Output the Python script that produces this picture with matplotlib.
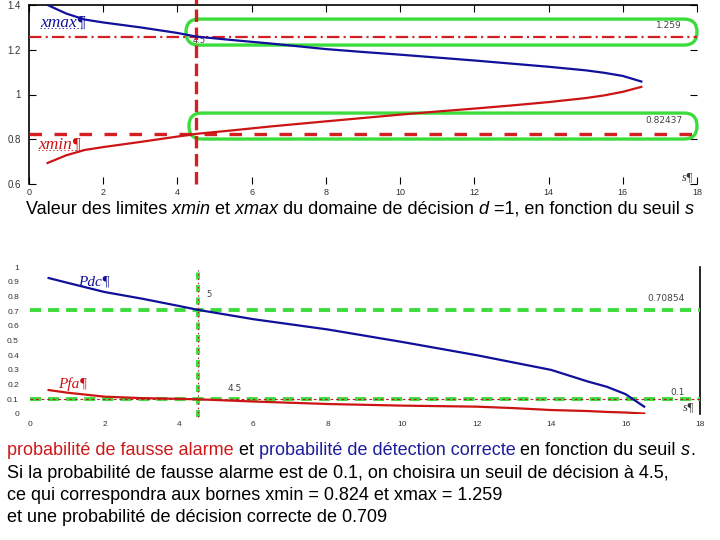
import matplotlib
matplotlib.use("Agg")
import matplotlib.pyplot as plt
from matplotlib.patches import FancyBboxPatch
from matplotlib.ticker import FixedLocator

plt.rcParams["font.family"] = ["Liberation Sans", "DejaVu Sans"]
plt.rcParams["lines.scale_dashes"] = False

# ---- valeurs ----
s_lim = [0.5, 1.0, 1.5, 2, 3, 4, 4.5, 5.5, 6.5, 8, 9, 10, 11, 12, 13, 14, 15, 15.5, 16, 16.5]
xmax = [1.400, 1.362, 1.335, 1.322, 1.300, 1.275, 1.259, 1.243, 1.228, 1.203, 1.190, 1.178,
        1.165, 1.152, 1.138, 1.124, 1.108, 1.097, 1.083, 1.058]
xmin = [0.694, 0.728, 0.752, 0.765, 0.788, 0.812, 0.824, 0.840, 0.857, 0.880, 0.895, 0.910,
        0.924, 0.937, 0.951, 0.966, 0.984, 0.996, 1.012, 1.034]

s_prob = [0.5, 1, 2, 3, 4, 4.5, 6, 8, 10, 12, 13, 14, 15, 15.5, 16, 16.5]
pdc = [0.925, 0.893, 0.83, 0.785, 0.735, 0.709, 0.645, 0.575, 0.49, 0.40, 0.35, 0.30,
       0.22, 0.185, 0.135, 0.05]
pfa = [0.163, 0.145, 0.118, 0.108, 0.103, 0.100, 0.085, 0.068, 0.057, 0.05, 0.04, 0.027,
       0.02, 0.014, 0.01, 0.003]

seuil = 4.5
xmin_s = 0.824
xmax_s = 1.259
pdc_s = 0.709
pfa_s = 0.1

x_ticks = [0, 2, 4, 6, 8, 10, 12, 14, 16, 18]
y_ticks_top = [0.6, 0.8, 1.0, 1.2, 1.4]
y_labels_top = ["0.6", "0.8", "1", "1.2", "1.4"]
y_ticks_bot = [0, 0.1, 0.2, 0.3, 0.4, 0.5, 0.6, 0.7, 0.8, 0.9, 1.0]
y_labels_bot = ["0", "0.1", "0.2", "0.3", "0.4", "0.5", "0.6", "0.7", "0.8", "0.9", "1"]

BLUE = "#10109a"
RED = "#cc1414"
DRED = "#d42020"
GREEN = "#3ddc3d"
TICKC = "#333333"

fig = plt.figure(figsize=(7.2, 5.4), dpi=100)
fig.patch.set_facecolor("white")

# ================= graphe du haut : xmin / xmax =================
ax1 = fig.add_axes([29 / 720, 1 - 184 / 540, 668 / 720, 179 / 540])
ax1.set_xlim(0, 18)
ax1.set_ylim(0.6, 1.4)
for sp in ("bottom", "right"):
    ax1.spines[sp].set_visible(False)
for sp in ("left", "top"):
    ax1.spines[sp].set_linewidth(1.2)
ax1.set_xticks(x_ticks)
ax1.set_xticklabels([str(t) for t in x_ticks])
ax1.set_yticks(y_ticks_top)
ax1.set_yticklabels(y_labels_top)
ax1.tick_params(axis="x", direction="in", length=5, top=True, bottom=True,
                labelsize=6.5, pad=3, colors="black", labelcolor=TICKC)
ax1.tick_params(axis="y", direction="in", length=5, left=True, right=True,
                labelsize=7, pad=6, labelcolor=TICKC)

# boîtes vertes
box_kw = dict(boxstyle="round,pad=0,rounding_size=0.35", mutation_aspect=0.166,
              fill=False, edgecolor=GREEN, linewidth=2.4, clip_on=False, zorder=2)
ax1.add_patch(FancyBboxPatch((4.23, 1.221), 18.0 - 4.23, 0.116, **box_kw))
ax1.add_patch(FancyBboxPatch((4.31, 0.801), 18.0 - 4.31, 0.116, **box_kw))

ax1.plot(s_lim, xmax, color=BLUE, lw=1.6, zorder=4)
ax1.plot(s_lim, xmin, color=RED, lw=1.6, zorder=4)

l1, = ax1.plot([0, 18], [xmax_s, xmax_s], color=DRED, lw=1.6, zorder=3, clip_on=False)
l1.set_dashes((9, 3, 1.5, 3))
l2, = ax1.plot([0, 18], [xmin_s, xmin_s], color=DRED, lw=2.4, zorder=3, clip_on=False)
l2.set_dashes((9, 9))
l3, = ax1.plot([seuil, seuil], [0.6, 1.425], color=DRED, lw=2.4, zorder=3, clip_on=False)
l3.set_dashes((9, 4))

ax1.text(4.4, 1.243, "4.5", fontsize=6, color="#444444", ha="left", va="center",
         family="DejaVu Sans", zorder=1)
ax1.text(17.6, 1.31, "1.259", fontsize=6.5, color="#444444", ha="right", va="center",
         family="DejaVu Sans")
ax1.text(17.6, 0.886, "0.82437", fontsize=6.5, color="#444444", ha="right", va="center",
         family="DejaVu Sans")
serif = ["Liberation Serif", "DejaVu Serif"]
ax1.text(0.3, 1.322, "xmax¶", fontsize=12.5, color=BLUE, style="italic",
         family=serif, ha="left", va="center")
ax1.plot([0.3, 1.45], [1.297, 1.297], color=BLUE, lw=0.6, ls=":", zorder=2)
ax1.text(0.25, 0.775, "xmin¶", fontsize=12.5, color=RED, style="italic",
         family=serif, ha="left", va="center")
ax1.plot([0.25, 1.3], [0.75, 0.75], color=RED, lw=0.6, ls=":", zorder=2)
ax1.text(17.9, 0.63, "s¶", fontsize=9, color="#333333", style="italic",
         family=serif, ha="right", va="center")

# ================= graphe du bas : Pdc / Pfa =================
ax2 = fig.add_axes([30 / 720, 1 - 414 / 540, 670 / 720, 147 / 540])
ax2.set_xlim(0, 18)
ax2.set_ylim(0, 1)
for sp in ("bottom", "left", "top"):
    ax2.spines[sp].set_visible(False)
ax2.spines["right"].set_linewidth(1.2)
ax2.set_xticks(x_ticks)
ax2.set_xticklabels([str(t) for t in x_ticks])
ax2.set_yticks(y_ticks_bot)
ax2.set_yticklabels(y_labels_bot)
ax2.xaxis.set_minor_locator(FixedLocator([2, 8, 10, 12, 14, 16]))
ax2.yaxis.set_minor_locator(FixedLocator([0.4, 0.5, 0.6]))
ax2.tick_params(axis="x", which="major", length=0, labelsize=6, pad=5, labelcolor=TICKC)
ax2.tick_params(axis="y", which="major", length=0, labelsize=6, pad=8, labelcolor=TICKC)
ax2.tick_params(axis="x", which="minor", direction="in", length=5, top=True, bottom=True)
ax2.tick_params(axis="y", which="minor", direction="in", length=6, left=True, right=True)

ax2.plot(s_prob, pdc, color=BLUE, lw=1.6, zorder=4)
ax2.plot(s_prob, pfa, color=RED, lw=1.6, zorder=4)

g1, = ax2.plot([0, 18], [pdc_s, pdc_s], color=GREEN, lw=2.8, zorder=3, clip_on=False)
g1.set_dashes((8, 5))
g2, = ax2.plot([0, 18], [pfa_s, pfa_s], color=GREEN, lw=2.8, zorder=3, clip_on=False)
g2.set_dashes((8, 5))
r2, = ax2.plot([0, 18], [pfa_s, pfa_s], color="#b02020", lw=0.8, zorder=3.5, clip_on=False)
r2.set_dashes((2, 2))
g3, = ax2.plot([seuil, seuil], [-0.02, 1.0], color=GREEN, lw=2.8, zorder=3, clip_on=False)
g3.set_dashes((5, 4))
r3, = ax2.plot([seuil, seuil], [-0.02, 1.0], color="#b02020", lw=0.8, zorder=3.5, clip_on=False)
r3.set_dashes((1, 2))

ax2.text(4.75, 0.81, "5", fontsize=6, color="#444444", ha="left", va="center",
         family="DejaVu Sans")
ax2.text(5.3, 0.175, "4.5", fontsize=6.5, color="#444444", ha="left", va="center",
         family="DejaVu Sans")
ax2.text(17.6, 0.785, "0.70854", fontsize=6.5, color="#444444", ha="right", va="center",
         family="DejaVu Sans")
ax2.text(17.6, 0.143, "0.1", fontsize=6.5, color="#444444", ha="right", va="center",
         family="DejaVu Sans")
ax2.text(17.85, 0.05, "s¶", fontsize=9, color="#333333", style="italic",
         family=serif, ha="right", va="center")
ax2.text(1.3, 0.9, "Pdc¶", fontsize=11, color=BLUE, style="italic",
         family=serif, ha="left", va="center")
ax2.text(0.75, 0.2, "Pfa¶", fontsize=11, color=RED, style="italic",
         family=serif, ha="left", va="center")

# ================= textes =================
ov = fig.add_axes([0, 0, 1, 1])
ov.axis("off")
ov.set_xlim(0, 1)
ov.set_ylim(0, 1)


def rich(x, y, parts, size=13.0):
    """parts: liste de (texte, couleur, style) mis bout à bout."""
    t = None
    for txt, col, sty in parts:
        if t is None:
            t = ov.text(x, y, txt, color=col, style=sty, fontsize=size,
                        ha="left", va="bottom")
        else:
            t = ov.annotate(txt, xy=(1, 0), xycoords=t, color=col, style=sty,
                            fontsize=size, ha="left", va="bottom")
    return t


K = "black"
rich(26 / 720, 1 - 218 / 540, [
    ("Valeur des limites", K, "normal"), (" xmin", K, "italic"), (" et", K, "normal"),
    (" xmax", K, "italic"), (" du domaine de décision", K, "normal"), (" d", K, "italic"),
    (" =1, en fonction du seuil", K, "normal"), (" s", K, "italic")])

rich(7 / 720, 1 - 459 / 540, [
    ("probabilité de fausse alarme", "#d01818", "normal"), (" et", K, "normal"),
    (" probabilité de détection correcte", "#1c1c9c", "normal"),
    (" en fonction du seuil", K, "normal"), (" s", K, "italic"), (".", K, "normal")])
rich(7 / 720, 1 - 482 / 540, [
    ("Si la probabilité de fausse alarme est de 0.1, on choisira un seuil de décision à 4.5,",
     K, "normal")])
rich(7 / 720, 1 - 504 / 540, [
    ("ce qui correspondra aux bornes xmin = 0.824 et xmax = 1.259", K, "normal")])
rich(7 / 720, 1 - 526 / 540, [
    ("et une probabilité de décision correcte de 0.709", K, "normal")])

fig.savefig("out.png", dpi=100, facecolor="white")
